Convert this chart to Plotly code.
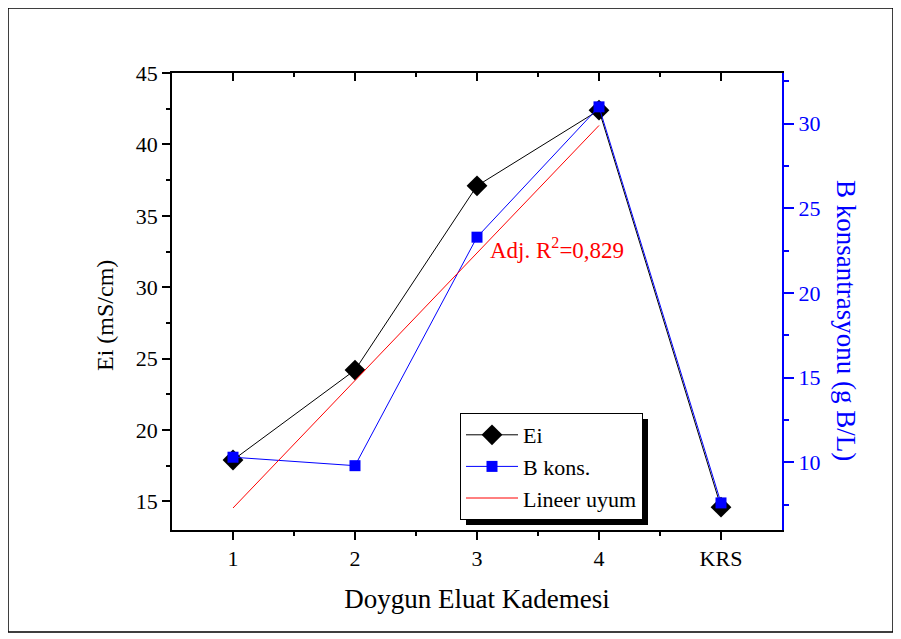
import plotly.graph_objects as go

# ---- data ----
categories = ["1", "2", "3", "4", "KRS"]
x_pos = [1, 2, 3, 4, 5]
ei_values = [17.9, 24.2, 37.1, 42.4, 14.6]        # Ei (mS/cm), left axis
b_values = [10.3, 9.8, 23.3, 31.0, 7.6]           # B konsantrasyonu (g B/L), right axis
fit_x = [1, 4]
fit_y = [7.3, 29.9]                               # linear fit of B kons. (right axis)
fit_label = "Adj. R<sup>2</sup>=0,829"

# page is rendered with an 8px body margin -> figure is 8px smaller
OFF = 8
PAGE_W, PAGE_H = 901, 639
W, H = PAGE_W - OFF, PAGE_H - OFF
X0, X1, Y0, Y1 = 172, 782, 73, 530       # plot area in page pixels
ML, MR, MT, MB = X0 - OFF, PAGE_W - X1, Y0 - OFF, PAGE_H - Y1
PW, PH = X1 - X0, Y1 - Y0

def px(xp):
    return (xp - X0) / PW

def py(yp):
    return (Y1 - yp) / PH

FONT = "Liberation Serif, Times New Roman, serif"

fig = go.Figure()
fig.add_trace(go.Scatter(
    x=x_pos, y=ei_values, name="Ei", mode="lines+markers",
    line=dict(color="black", width=1),
    marker=dict(symbol="diamond", size=16, color="black"),
    yaxis="y"))
fig.add_trace(go.Scatter(
    x=x_pos, y=b_values, name="B kons.", mode="lines+markers",
    line=dict(color="#0000ff", width=1),
    marker=dict(symbol="square", size=11, color="#0000ff"),
    yaxis="y2"))
fig.add_trace(go.Scatter(
    x=fit_x, y=fit_y, name="Lineer uyum", mode="lines",
    line=dict(color="#ff0000", width=1),
    yaxis="y2"))
# dummy trace to activate top mirror axis
fig.add_trace(go.Scatter(x=[None], y=[None], xaxis="x2", yaxis="y",
                         showlegend=False, hoverinfo="skip"))

xcommon = dict(range=[0.5, 5.5], tickmode="array", tickvals=x_pos,
               showline=True, linecolor="black", linewidth=1.5,
               showgrid=False, zeroline=False, tickcolor="black", tickwidth=1.5)

fig.update_layout(
    width=W, height=H,
    margin=dict(l=ML, r=MR, t=MT, b=MB, pad=0),
    paper_bgcolor="white", plot_bgcolor="white",
    font=dict(family=FONT, color="black", size=22),
    showlegend=True,
    xaxis=dict(**xcommon, ticktext=categories, ticks="outside", ticklen=8,
               minor=dict(tickmode="array", tickvals=[1.5, 2.5, 3.5, 4.5],
                          ticks="outside", ticklen=4, tickcolor="black", tickwidth=1.5),
               tickfont=dict(size=22),
               title=dict(text="Doygun Eluat Kademesi", font=dict(size=27), standoff=19)),
    xaxis2=dict(**xcommon, overlaying="x", side="top", ticks="inside", ticklen=8,
                showticklabels=False,
                minor=dict(tickmode="array", tickvals=[1.5, 2.5, 3.5, 4.5],
                           ticks="inside", ticklen=4, tickcolor="black", tickwidth=1.5)),
    yaxis=dict(range=[13, 45], tickmode="linear", tick0=15, dtick=5,
               showline=True, linecolor="black", linewidth=1.5,
               ticks="outside", ticklen=8, tickcolor="black", tickwidth=1.5,
               minor=dict(tickmode="linear", tick0=12.5, dtick=5, ticks="outside",
                          ticklen=4, tickcolor="black", tickwidth=1.5),
               showgrid=False, zeroline=False, tickfont=dict(size=22)),
    yaxis2=dict(range=[6, 33], overlaying="y", side="right",
                tickmode="linear", tick0=10, dtick=5,
                showline=True, linecolor="#0000ff", linewidth=2,
                ticks="outside", ticklen=10, tickcolor="#0000ff", tickwidth=1.5,
                minor=dict(tickmode="linear", tick0=7.5, dtick=5, ticks="outside",
                           ticklen=5, tickcolor="#0000ff", tickwidth=1.5),
                showgrid=False, zeroline=False,
                tickfont=dict(size=22, color="#0000ff")),
    legend=dict(x=px(460), y=py(413), xanchor="left", yanchor="top",
                bgcolor="white", bordercolor="black", borderwidth=1,
                font=dict(size=22, family=FONT), tracegroupgap=0,
                itemwidth=52),
)

# left axis title
fig.add_annotation(x=px(105), y=py(316), xref="paper", yref="paper",
                   xanchor="center", yanchor="middle",
                   text="Ei (mS/cm)", showarrow=False, textangle=-90,
                   font=dict(size=24, color="black", family=FONT))
# right axis title (reads top-to-bottom)
fig.add_annotation(x=px(846), y=py(320), xref="paper", yref="paper",
                   xanchor="center", yanchor="middle",
                   text="B konsantrasyonu (g B/L)", showarrow=False, textangle=90,
                   font=dict(size=27, color="#0000ff", family=FONT))
# fit annotation
fig.add_annotation(x=px(488), y=py(249), xref="paper", yref="paper",
                   xanchor="left", yanchor="middle",
                   text=fit_label, showarrow=False,
                   font=dict(size=23, color="#ff0000", family=FONT))

# legend shadow
fig.add_shape(type="rect", xref="paper", yref="paper",
              x0=px(466), x1=px(648), y0=py(419), y1=py(525),
              fillcolor="black", line=dict(width=0), layer="above")
# outer frame
fig.add_shape(type="rect", xref="paper", yref="paper",
              x0=px(8), x1=px(893), y0=py(8), y1=py(632),
              line=dict(color="black", width=1.5), fillcolor="rgba(0,0,0,0)")

fig.write_html("out.html")
